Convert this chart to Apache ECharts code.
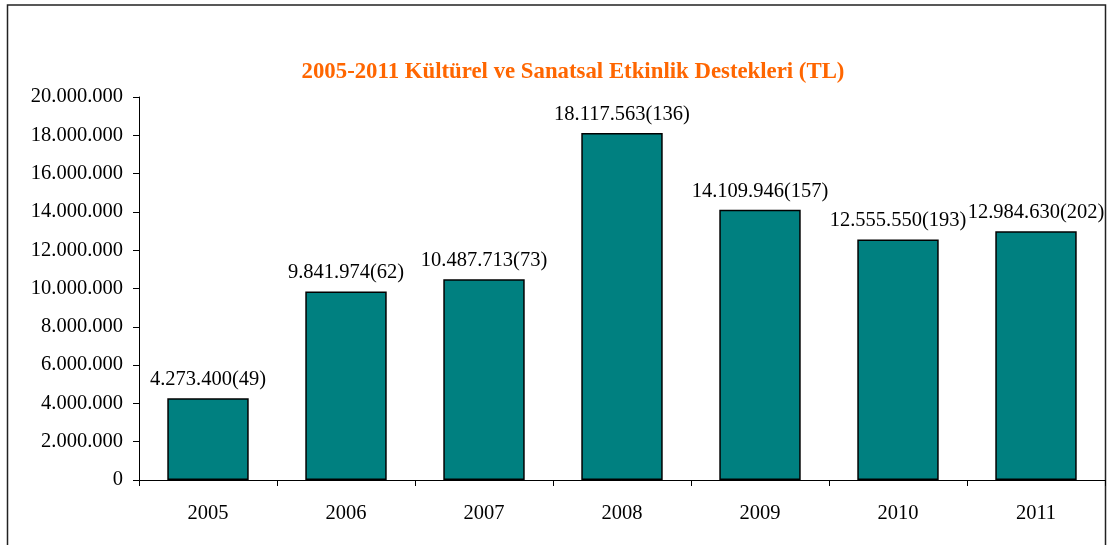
<!DOCTYPE html>
<html><head><meta charset="utf-8">
<script src="https://cdn.jsdelivr.net/npm/echarts@6/dist/echarts.min.js"></script>
<style>html,body{margin:0;padding:0;background:#fff;}#c{width:1110px;height:545px;}</style>
</head><body><div id="c"></div>
<script>
const categories = ['2005','2006','2007','2008','2009','2010','2011'];
const amounts = [4273400, 9841974, 10487713, 18117563, 14109946, 12555550, 12984630];
const counts = [49, 62, 73, 136, 157, 193, 202];
const titleText = '2005-2011 Kültürel ve Sanatsal Etkinlik Destekleri (TL)';

function fmt(v){ return String(v).replace(/\B(?=(\d{3})+(?!\d))/g, '.'); }

const chart = echarts.init(document.getElementById('c'), null, {renderer:'canvas'});
chart.setOption({
  animation:false,
  backgroundColor:'#fff',
  textStyle:{fontFamily:'Liberation Serif'},
  graphic:[{type:'rect', shape:{x:7.5,y:5,width:1098,height:560}, style:{fill:'none', stroke:'#222', lineWidth:1.5}}],
  title:{text:titleText, left:568, textAlign:'center', top:56, textStyle:{fontFamily:'Liberation Serif', fontWeight:'bold', fontSize:22.8, color:'#FF6600'}},
  grid:{left:139, right:5, top:97, bottom:65, containLabel:false},
  xAxis:{type:'category', data:categories,
    axisLine:{lineStyle:{color:'#000', width:1}},
    axisTick:{show:true, alignWithLabel:false, length:6, lineStyle:{color:'#000'}},
    axisLabel:{color:'#000', fontSize:20.5, margin:23, fontFamily:'Liberation Serif'}},
  yAxis:{type:'value', min:0, max:20000000, interval:2000000,
    axisLine:{show:true, lineStyle:{color:'#000', width:1}},
    axisTick:{show:true, length:6, lineStyle:{color:'#000'}},
    splitLine:{show:false},
    axisLabel:{color:'#000', fontSize:20.5, margin:16, fontFamily:'Liberation Serif', formatter:v=>fmt(v)}},
  series:[{type:'bar', data:amounts, barCategoryGap:'41%',
    itemStyle:{color:'#008080', borderColor:'#000', borderWidth:1.5},
    label:{show:true, position:'top', distance:8, color:'#000', fontSize:20.5, fontFamily:'Liberation Serif',
      formatter:p=>fmt(p.value)+'('+counts[p.dataIndex]+')'}}]
});
</script></body></html>
